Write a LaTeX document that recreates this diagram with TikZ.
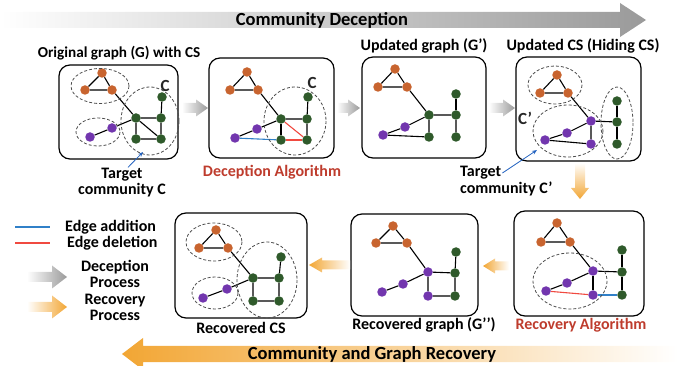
\documentclass[tikz,border=0pt]{standalone}
\usepackage{fontspec}
\setmainfont{Carlito}
\usetikzlibrary{arrows.meta}
\usepackage{xcolor}
\definecolor{NodeOrange}{HTML}{C8642F}
\definecolor{NodeGreen}{HTML}{2F5A2B}
\definecolor{NodePurple}{HTML}{7236AE}
\definecolor{EdgeBlue}{HTML}{3080C8}
\definecolor{EdgeRed}{HTML}{F04A40}
\definecolor{AlgoRed}{HTML}{BE3C2D}
\definecolor{PtrBlue}{HTML}{2463C0}
\definecolor{DecGray}{HTML}{9A9A9A}
\definecolor{RecOrange}{HTML}{F2A634}

\begin{document}
\begin{tikzpicture}[x=1pt,y=-1pt,font=\bfseries,
    panel/.style={draw=black,line width=1.2pt,rounded corners=11pt},
    cmty/.style={draw=black!70,line width=0.8pt,dash pattern=on 3pt off 2pt},
    lnk/.style={draw=black,line width=1.1pt},
    addlnk/.style={draw=EdgeBlue,line width=1.1pt},
    dellnk/.style={draw=EdgeRed,line width=1.1pt},
    vo/.style={circle,fill=NodeOrange,inner sep=0pt,minimum size=9.5pt},
    vg/.style={circle,fill=NodeGreen,inner sep=0pt,minimum size=9.5pt},
    vp/.style={circle,fill=NodePurple,inner sep=0pt,minimum size=9.5pt},
    lbl/.style={inner sep=1pt,font=\fontsize{16}{16}\selectfont\bfseries},
    ttl/.style={inner sep=1pt,font=\fontsize{18.5}{20}\selectfont\bfseries},
    cname/.style={inner sep=0pt,text=black!85,font=\fontsize{17}{17}\selectfont\bfseries},
    ptr/.style={draw=PtrBlue,line width=0.8pt,-{Stealth[length=5pt,width=4pt]}},
    grayarr/.style={left color=white,right color=DecGray},
    orngarr/.style={left color=RecOrange,right color=white}]
  \useasboundingbox (0,0) rectangle (678,366);
  \clip (0,0) rectangle (678,366);

  % banners
  \shade[left color=white,right color=DecGray] (0,12) -- (620,12) -- (620,3) -- (646,20)
    -- (620,37) -- (620,28) -- (0,28) -- cycle;
  \node[ttl] (decttl) at (322,20) {Community Deception};
  \shade[orngarr] (122,354) -- (143,338) -- (143,346) -- (678,346) -- (678,362)
    -- (143,362) -- (143,370) -- cycle;
  \node[ttl] (recttl) at (372,354) {Community and Graph Recovery};

  % panels
  \draw[panel] (59,65) rectangle (178,159);
  \draw[panel] (209,58) rectangle (334,158);
  \draw[panel] (362,57) rectangle (486,158);
  \draw[panel] (516,57) rectangle (641,161);
  \draw[panel] (175,213) rectangle (307,318);
  \draw[panel] (351,214) rectangle (478,316);
  \draw[panel] (514,211) rectangle (644,316);

  % step arrows
  \shade[grayarr] (182,103) -- (196,103) -- (196,99.5) -- (208,108) -- (196,116.5) -- (196,113) -- (182,113) -- cycle;
  \shade[grayarr] (337,103) -- (348,103) -- (348,99.5) -- (360,108) -- (348,116.5) -- (348,113) -- (337,113) -- cycle;
  \shade[grayarr] (489,103) -- (503,103) -- (503,99.5) -- (515,108) -- (503,116.5) -- (503,113) -- (489,113) -- cycle;
  \shade[top color=white,bottom color=RecOrange] (575,163) -- (585,163) -- (585,188) -- (589,188)
    -- (580,199) -- (571,188) -- (575,188) -- cycle;
  \shade[orngarr] (483,266) -- (495,258.5) -- (495,261.5) -- (509,261.5) -- (509,270.5) -- (495,270.5) -- (495,273.5) -- cycle;
  \shade[orngarr] (309,265) -- (322,257.5) -- (322,260.5) -- (350,260.5) -- (350,269.5) -- (322,269.5) -- (322,272.5) -- cycle;

  % panel 1: original graph with CS
  \node[vo] (g1a) at (102,73) {};
  \node[vo] (g1b) at (85,90) {};
  \node[vo] (g1c) at (112,90) {};
  \node[vg] (g1d) at (162,97) {};
  \node[vg] (g1e) at (136,118) {};
  \node[vg] (g1f) at (161,118) {};
  \node[vg] (g1g) at (136,139) {};
  \node[vg] (g1h) at (161,139) {};
  \node[vp] (g1i) at (112,128) {};
  \node[vp] (g1j) at (90,137) {};
  \draw[lnk] (g1a) -- (g1b) -- (g1c) -- (g1a);
  \draw[lnk] (g1c) -- (g1e) -- (g1f) -- (g1h) -- (g1g) -- (g1e) -- (g1h);
  \draw[lnk] (g1d) -- (g1f);
  \draw[lnk] (g1j) -- (g1i) -- (g1e);
  \draw[cmty] (100,86) ellipse [x radius=29,y radius=17.5];
  \draw[cmty] (98,132) ellipse [x radius=22,y radius=14];
  \draw[cmty] (150,121) ellipse [x radius=29,y radius=34];
  \node[cname] (c1) at (165,86) {C};

  % panel 2: deception algorithm
  \node[vo] (g2a) at (247,72) {};
  \node[vo] (g2b) at (230,90) {};
  \node[vo] (g2c) at (258,90) {};
  \node[vg] (g2d) at (308,97) {};
  \node[vg] (g2e) at (281,119) {};
  \node[vg] (g2f) at (307,119) {};
  \node[vg] (g2g) at (281,140) {};
  \node[vg] (g2h) at (307,140) {};
  \node[vp] (g2i) at (257,129) {};
  \node[vp] (g2j) at (235,138) {};
  \draw[lnk] (g2a) -- (g2b) -- (g2c) -- (g2a);
  \draw[lnk] (g2c) -- (g2e) -- (g2f) -- (g2h);
  \draw[lnk] (g2d) -- (g2f);
  \draw[lnk] (g2e) -- (g2g);
  \draw[lnk] (g2j) -- (g2i) -- (g2e);
  \draw[dellnk] (g2e) -- (g2h);
  \draw[dellnk] (g2g) -- (g2h);
  \draw[addlnk] (g2j) -- (g2g);
  \draw[cmty] (295,121) ellipse [x radius=31,y radius=34];
  \node[cname] (c2) at (312,83) {C};

  % panel 3: updated graph
  \node[vo] (g3a) at (395,69) {};
  \node[vo] (g3b) at (378,87) {};
  \node[vo] (g3c) at (407,87) {};
  \node[vg] (g3d) at (456,94) {};
  \node[vg] (g3e) at (429,115) {};
  \node[vg] (g3f) at (456,115) {};
  \node[vg] (g3g) at (429,137) {};
  \node[vg] (g3h) at (456,137) {};
  \node[vp] (g3i) at (405,127) {};
  \node[vp] (g3j) at (383,135) {};
  \draw[lnk] (g3a) -- (g3b) -- (g3c) -- (g3a);
  \draw[lnk] (g3c) -- (g3e) -- (g3f) -- (g3h);
  \draw[lnk] (g3d) -- (g3f);
  \draw[lnk] (g3e) -- (g3g) -- (g3j) -- (g3i) -- (g3e);

  % panel 4: hiding CS
  \node[vo] (g4a) at (557,75) {};
  \node[vo] (g4b) at (540,93) {};
  \node[vo] (g4c) at (568,93) {};
  \node[vp] (g4d) at (591,121) {};
  \node[vp] (g4e) at (567,133) {};
  \node[vp] (g4f) at (545,140) {};
  \node[vp] (g4g) at (591,144) {};
  \node[vg] (g4h) at (617,101) {};
  \node[vg] (g4i) at (617,122) {};
  \node[vg] (g4j) at (617,144) {};
  \draw[lnk] (g4a) -- (g4b) -- (g4c) -- (g4a);
  \draw[lnk] (g4c) -- (g4d) -- (g4i);
  \draw[lnk] (g4h) -- (g4i) -- (g4j);
  \draw[lnk] (g4d) -- (g4g) -- (g4f) -- (g4e) -- (g4d);
  \draw[cmty] (555,85) ellipse [x radius=27,y radius=19];
  \draw[cmty] (568,131) ellipse [x radius=35,y radius=26];
  \draw[cmty] (617,123) ellipse [x radius=16,y radius=36];
  \node[cname] (c4) at (525,118) {C’};

  % panel 7: recovery algorithm
  \node[vo] (g7a) at (557,223) {};
  \node[vo] (g7b) at (541,242) {};
  \node[vo] (g7c) at (570,242) {};
  \node[vp] (g7d) at (593,271) {};
  \node[vp] (g7e) at (567,283) {};
  \node[vp] (g7f) at (546,291) {};
  \node[vp] (g7g) at (593,295) {};
  \node[vg] (g7h) at (622,250) {};
  \node[vg] (g7i) at (622,272) {};
  \node[vg] (g7j) at (622,295) {};
  \draw[lnk] (g7a) -- (g7b) -- (g7c) -- (g7a);
  \draw[lnk] (g7c) -- (g7d) -- (g7i);
  \draw[lnk] (g7h) -- (g7i) -- (g7j);
  \draw[lnk] (g7d) -- (g7g);
  \draw[lnk] (g7f) -- (g7e) -- (g7d);
  \draw[dellnk] (g7f) -- (g7g);
  \draw[addlnk] (g7g) -- (g7j);
  \draw[cmty] (570,281) ellipse [x radius=37,y radius=28];

  % panel 6: recovered graph
  \node[vo] (g6a) at (393,226) {};
  \node[vo] (g6b) at (376,243) {};
  \node[vo] (g6c) at (407,243) {};
  \node[vp] (g6d) at (428,272) {};
  \node[vp] (g6e) at (403,284) {};
  \node[vp] (g6f) at (382,292) {};
  \node[vp] (g6g) at (428,296) {};
  \node[vg] (g6h) at (456,252) {};
  \node[vg] (g6i) at (455,273) {};
  \node[vg] (g6j) at (455,296) {};
  \draw[lnk] (g6a) -- (g6b) -- (g6c) -- (g6a);
  \draw[lnk] (g6c) -- (g6d) -- (g6i);
  \draw[lnk] (g6h) -- (g6i) -- (g6j) -- (g6g) -- (g6d);
  \draw[lnk] (g6f) -- (g6e) -- (g6d);

  % panel 5: recovered CS
  \node[vo] (g5a) at (216,230) {};
  \node[vo] (g5b) at (199,248) {};
  \node[vo] (g5c) at (228,248) {};
  \node[vg] (g5d) at (281,257) {};
  \node[vg] (g5e) at (253,278) {};
  \node[vg] (g5f) at (279,278) {};
  \node[vg] (g5g) at (253,301) {};
  \node[vg] (g5h) at (279,301) {};
  \node[vp] (g5i) at (227,289) {};
  \node[vp] (g5j) at (203,298) {};
  \draw[lnk] (g5a) -- (g5b) -- (g5c) -- (g5a);
  \draw[lnk] (g5c) -- (g5e) -- (g5f) -- (g5h) -- (g5g) -- (g5e);
  \draw[lnk] (g5d) -- (g5f);
  \draw[lnk] (g5j) -- (g5i) -- (g5e);
  \draw[cmty] (214,242) ellipse [x radius=28,y radius=19];
  \draw[cmty] (215,293) ellipse [x radius=23,y radius=16];
  \draw[cmty] (267,280) ellipse [x radius=30,y radius=38];

  % labels
  \node[lbl,font=\fontsize{15.2}{16}\selectfont\bfseries] (lblG) at (119,53) {Original graph (G) with CS};
  \node[lbl] (lblGp) at (424,46) {Updated graph (G’)};
  \node[lbl] (lblCSp) at (583,46) {Updated CS (Hiding CS)};
  \node[lbl,text=AlgoRed] (lblDec) at (272,172) {Deception Algorithm};
  \node[lbl,align=center] (tgtC) at (122,183) {Target\\community C};
  \node[lbl,anchor=west] (tgtCp) at (459,173) {Target};
  \node[lbl,anchor=west] (tgtCq) at (459,189) {community C’};
  \node[lbl] (lblRcs) at (241,328) {Recovered CS};
  \node[lbl] (lblRg) at (424,325) {Recovered graph (G’’)};
  \node[lbl,text=AlgoRed] (lblRec) at (581,325) {Recovery Algorithm};
  \coordinate (endC) at (143,152);
  \coordinate (endCp) at (537,150);
  \draw[ptr] ([xshift=6]tgtC.north) -- (endC);
  \draw[ptr] (tgtCp.east) -- (endCp);

  % legend
  \draw[EdgeBlue,line width=2pt] (15,227) -- (50,227);
  \node[lbl,anchor=west] (lgAdd) at (64,227) {Edge addition};
  \draw[EdgeRed,line width=2pt] (15,243) -- (50,243);
  \node[lbl,anchor=west] (lgDel) at (66,243) {Edge deletion};
  \shade[grayarr] (27,272) -- (52,272) -- (52,265.5) -- (67,277) -- (52,288.5) -- (52,282) -- (27,282) -- cycle;
  \node[lbl,align=center] (lgDec) at (115,274) {Deception\\Process};
  \shade[left color=white,right color=RecOrange] (27,302) -- (52,302) -- (52,295.5) -- (67,307) -- (52,318.5) -- (52,312) -- (27,312) -- cycle;
  \node[lbl,align=center] (lgRec) at (115,307.5) {Recovery\\Process};
\end{tikzpicture}
\end{document}
